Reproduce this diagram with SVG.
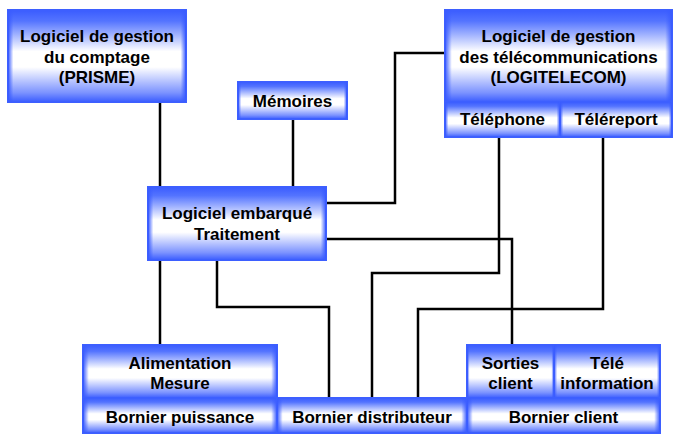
<svg xmlns="http://www.w3.org/2000/svg" width="676" height="435" viewBox="0 0 676 435">
<defs>
<linearGradient id="gV" x1="0" y1="0" x2="0" y2="1">
<stop offset="0" stop-color="#3a5cff"/>
<stop offset="0.12" stop-color="#5474ff"/>
<stop offset="0.45" stop-color="#ffffff"/>
<stop offset="0.62" stop-color="#ffffff"/>
<stop offset="0.9" stop-color="#7b92ff"/>
<stop offset="1" stop-color="#3a5cff"/>
</linearGradient>
<linearGradient id="gH" x1="0" y1="0" x2="1" y2="0">
<stop offset="0" stop-color="#3a5cff" stop-opacity="1"/>
<stop offset="0.03" stop-color="#3a5cff" stop-opacity="0"/>
<stop offset="0.97" stop-color="#3a5cff" stop-opacity="0"/>
<stop offset="1" stop-color="#3a5cff" stop-opacity="1"/>
</linearGradient>
</defs>
<style>
.b{fill:url(#gV);stroke:#3d5fff;stroke-width:2}
.h{fill:url(#gH);stroke:none}
text{font-family:"Liberation Sans",Arial,sans-serif;font-weight:bold;font-size:17px;fill:#000;text-anchor:middle}
.c{fill:none;stroke:#000;stroke-width:2.5}
</style>
<g id="connectors">
<path class="c" d="M160,102 V187"/>
<path class="c" d="M293,119 V187"/>
<path class="c" d="M326,203 H395 V53 H445"/>
<path class="c" d="M326,239 H512 V345"/>
<path class="c" d="M217,260 V307 H329 V398"/>
<path class="c" d="M499,137 V273 H372 V398"/>
<path class="c" d="M603,137 V309 H418 V398"/>
<path class="c" d="M160,260 V345"/>
</g>
<g id="prisme">
<rect class="b" x="8" y="10" width="178" height="92"/><rect class="h" x="8" y="10" width="178" height="92"/>
<text x="97" y="42">Logiciel de gestion</text>
<text x="97" y="62.5">du comptage</text>
<text x="97" y="83">(PRISME)</text>
</g>
<g id="memoires">
<rect class="b" x="238" y="82" width="109" height="37"/><rect class="h" x="238" y="82" width="109" height="37"/>
<text x="292.5" y="106.5">Mémoires</text>
</g>
<g id="logitelecom">
<rect class="b" x="445" y="10" width="227" height="92"/><rect class="h" x="445" y="10" width="227" height="92"/>
<text x="558.5" y="42">Logiciel de gestion</text>
<text x="558.5" y="62.5">des télécommunications</text>
<text x="558.5" y="83">(LOGITELECOM)</text>
</g>
<g id="telephone">
<rect class="b" x="445" y="102" width="115" height="35"/><rect class="h" x="445" y="102" width="115" height="35"/>
<text x="502.5" y="125">Téléphone</text>
</g>
<g id="telereport">
<rect class="b" x="560" y="102" width="112" height="35"/><rect class="h" x="560" y="102" width="112" height="35"/>
<text x="616" y="125">Téléreport</text>
</g>
<g id="embarque">
<rect class="b" x="148" y="187" width="178" height="73"/><rect class="h" x="148" y="187" width="178" height="73"/>
<text x="237" y="219">Logiciel embarqué</text>
<text x="237" y="239.5">Traitement</text>
</g>
<g id="alimentation">
<rect class="b" x="83" y="345" width="194" height="53"/><rect class="h" x="83" y="345" width="194" height="53"/>
<text x="180" y="368.5">Alimentation</text>
<text x="180" y="389">Mesure</text>
</g>
<g id="bornier-puissance">
<rect class="b" x="83" y="398" width="194" height="35"/><rect class="h" x="83" y="398" width="194" height="35"/>
<text x="180" y="423">Bornier puissance</text>
</g>
<g id="bornier-distributeur">
<rect class="b" x="277" y="398" width="190" height="35"/><rect class="h" x="277" y="398" width="190" height="35"/>
<text x="372" y="423">Bornier distributeur</text>
</g>
<g id="sorties-client">
<rect class="b" x="467" y="345" width="87" height="53"/><rect class="h" x="467" y="345" width="87" height="53"/>
<text x="510.5" y="368.5">Sorties</text>
<text x="510.5" y="389">client</text>
</g>
<g id="tele-information">
<rect class="b" x="554" y="345" width="106" height="53"/><rect class="h" x="554" y="345" width="106" height="53"/>
<text x="607" y="368.5">Télé</text>
<text x="607" y="389">information</text>
</g>
<g id="bornier-client">
<rect class="b" x="467" y="398" width="193" height="35"/><rect class="h" x="467" y="398" width="193" height="35"/>
<text x="563.5" y="423">Bornier client</text>
</g>
</svg>
